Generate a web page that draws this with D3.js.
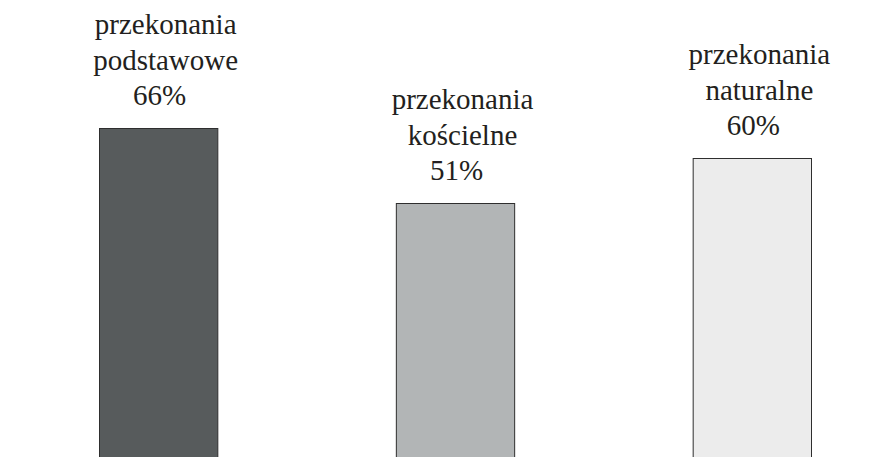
<!DOCTYPE html>
<html>
<head>
<meta charset="utf-8">
<script src="https://cdn.jsdelivr.net/npm/d3@7"></script>
<style>
  html, body { margin: 0; padding: 0; background: #ffffff; }
  svg { display: block; }
</style>
</head>
<body>
<svg id="chart" width="890" height="457"></svg>
<script>
const categories = ["przekonania podstawowe", "przekonania kościelne", "przekonania naturalne"];
const nameLines = [["przekonania", "podstawowe"], ["przekonania", "kościelne"], ["przekonania", "naturalne"]];
const values = [66, 51, 60];
const colors = ["#575b5c", "#b2b5b6", "#ececec"];

const svg = d3.select("#chart");

const x = d3.scaleBand()
  .domain(categories)
  .range([99, 812])
  .paddingInner(0.598)
  .paddingOuter(0);

const y = d3.scaleLinear()
  .domain([0, 100])
  .range([458, -42]);

const g = svg.append("g");

g.selectAll("rect.bar")
  .data(values)
  .join("rect")
  .attr("class", "bar")
  .attr("x", (d, i) => x(categories[i]) + 0.5)
  .attr("y", d => y(d) + 0.5)
  .attr("width", x.bandwidth() - 1)
  .attr("height", d => y(0) - y(d))
  .attr("fill", (d, i) => colors[i])
  .attr("stroke", "#2e2e2e")
  .attr("stroke-width", 1);

const FONT = "'Liberation Serif', 'Times New Roman', Tinos, 'DejaVu Serif', serif";

const labels = g.selectAll("g.label")
  .data(values)
  .join("g")
  .attr("class", "label");

labels.each(function(d, i) {
  const cx = x(categories[i]) + x.bandwidth() / 2;
  const top = y(d);
  const sel = d3.select(this);
  nameLines[i].forEach((line, j) => {
    sel.append("text")
      .attr("x", cx + 7)
      .attr("y", top - 94 + j * 35.5)
      .attr("text-anchor", "middle")
      .attr("font-family", FONT)
      .style("font-family", FONT)
      .attr("font-size", 29)
      .attr("fill", "#231f20")
      .text(line);
  });
  sel.append("text")
    .attr("x", cx + 1)
    .attr("y", top - 23.5)
    .attr("text-anchor", "middle")
    .attr("font-family", FONT)
    .style("font-family", FONT)
    .attr("font-size", 29)
    .attr("fill", "#231f20")
    .text(d + "%");
});
</script>
</body>
</html>
